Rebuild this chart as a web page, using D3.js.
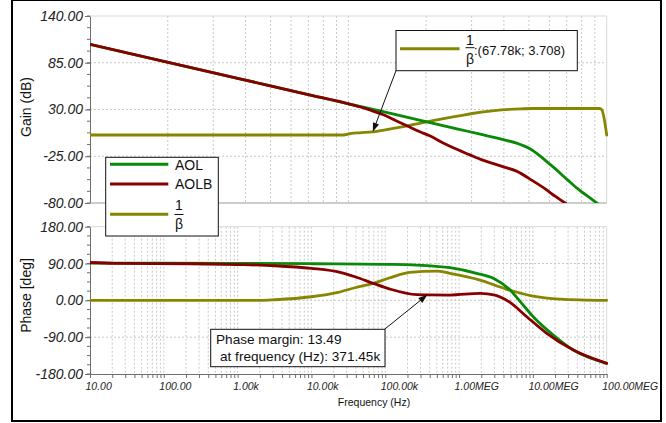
<!DOCTYPE html>
<html><head><meta charset="utf-8">
<script src="https://cdn.jsdelivr.net/npm/d3@7"></script>
<style>
html,body{margin:0;padding:0;background:#fff;}
svg{display:block;}
text{font-family:"Liberation Sans",Arial,sans-serif;}
</style></head><body>
<svg id="chart" width="666" height="423"></svg>
<script>
// ---------- data ----------
const freqTicks = [10, 100, 1e3, 1e4, 1e5, 1e6, 1e7, 1e8];
const freqTickLabels = ["10.00", "100.00", "1.00k", "10.00k", "100.00k", "1.00MEG", "10.00MEG", "100.00MEG"];
const gainTicks = [140, 85, 30, -25, -80];
const gainTickLabels = ["140.00", "85.00", "30.00", "-25.00", "-80.00"];
const phaseTicks = [180, 90, 0, -90, -180];
const phaseTickLabels = ["180.00", "90.00", "0.00", "-90.00", "-180.00"];
const seriesNames = ["AOL", "AOLB", "1/β"];
const seriesColors = ["#088a08", "#870000", "#868600"];

// Gain (dB)
const aolGainFreq = [10, 100, 1e3, 1e4, 1e5, 1e6, 2e6, 4e6, 6e6, 8.87e6, 1.127e7, 1.5e7, 2e7, 3e7, 4e7, 6e7, 7.6e7];
const aolGainDb   = [106.7, 86.7, 66.7, 46.7, 26.9, 6.7, 0.7, -5.5, -9.5, -15.6, -21.5, -30.4, -39.6, -53.4, -62.8, -74.4, -81];
const aolbGainFreq = [10, 100, 1e3, 1e4, 3e4, 4.5e4, 6e4, 1e5, 1.5e5, 2e5, 3e5, 4e5, 6e5, 1e6, 1.5e6, 2e6, 3e6, 4e6, 6e6, 1e7, 1.5e7, 2e7, 3e7];
const aolbGainDb   = [106.7, 86.7, 66.7, 46.7, 37.2, 33.2, 29.8, 23.0, 15.5, 10.5, 3.5, -1.0, -9.0, -18.0, -24.5, -29.0, -34.0, -37.5, -42.5, -54.0, -64.0, -72.0, -82.4];
const invBetaGainFreq = [10, 2.7e4, 3.5e4, 4.5e4, 6.778e4, 1e5, 1.76e5, 3e5, 5e5, 1e6, 1.5e6, 3e6, 7e6, 1e7, 8e7, 8.6e7, 1e8];
const invBetaGainDb   = [0, 0, 1.8, 2.6, 3.708, 6.0, 9.8, 14.0, 17.7, 22.5, 25.3, 28.8, 30.8, 31.2, 31.2, 29.5, 0];

// Phase (deg)
const aolPhaseFreq = [10, 1e3, 1e4, 1e5, 2.67e5, 7.53e5, 1.73e6, 2.91e6, 4.9e6, 7.06e6, 1.01e7, 1.89e7, 3.53e7, 1e8];
const aolPhaseDeg  = [91, 90.5, 89.5, 88, 86.3, 79.7, 66, 53.8, 25.2, -7.3, -40, -84.8, -121.5, -154];
const aolbPhaseFreq = [10, 21.8, 238, 1e3, 3.2e3, 1e4, 2.45e4, 3.89e4, 6.89e4, 1.16e5, 2.67e5, 3.7145e5, 7.53e5, 1.92e6, 3.07e6, 4.9e6, 8.26e6, 1.54e7, 3.53e7, 1e8];
const aolbPhaseDeg  = [92.5, 90.5, 89.5, 87.5, 84.6, 78.2, 68.4, 57.7, 41.5, 27.6, 14, 13.49, 13, 17.1, 13, -4.9, -40, -80.6, -121.5, -154];
const invBetaPhaseFreq = [10, 2e3, 3.2e3, 1e4, 2.3e4, 3.89e4, 6.89e4, 1.16e5, 2.14e5, 4.97e5, 7.53e5, 1.92e6, 4.33e6, 9.6e6, 2.33e7, 1e8];
const invBetaPhaseDeg  = [0, 0, 1.5, 8.8, 19.6, 30.8, 41.5, 55.2, 68.4, 71.6, 66, 49.6, 27.6, 11.2, 3.2, 0];

// Annotations
const markerBeta = {freq: 67.78e3, gain: 3.708, label: ":(67.78k; 3.708)"};
const markerPM = {freq: 371.45e3, phase: 13.49, line1: "Phase margin: 13.49", line2: "at frequency (Hz): 371.45k"};
const gainGridSteps = [2, 3, 4, 5, 6, 7, 8, 9, 10, 20, 30, 40, 50, 60, 70, 80, 90];

// ---------- layout ----------
const svg = d3.select("#chart");
const X0 = 90, X1 = 606.7;
const x = d3.scaleLog().domain([10, 1e8]).range([X0, X1]);
const yG = d3.scaleLinear().domain([-80, 140]).range([203, 16]);
const yP = d3.scaleLinear().domain([-180, 180]).range([374, 226.7]);
const gridTop = d3.scaleLog().domain([1, 100]).range([X0, X1]);
const FONT = '"Liberation Sans", Arial, sans-serif';
const gridColor = "#c9c9c9";
const axisColor = "#6e6e6e";

svg.append("rect").attr("width", 666).attr("height", 423).attr("fill", "#fff");

// ---------- grids ----------
function grid(g, yScale, hVals, vPositions) {
  const [yb, yt] = yScale.range();
  g.selectAll(".vg").data(vPositions).join("line")
    .attr("x1", d => d).attr("x2", d => d).attr("y1", yt).attr("y2", yb)
    .attr("stroke", gridColor).attr("stroke-dasharray", "2,2");
  g.selectAll(".hg").data(hVals).join("line")
    .attr("x1", X0).attr("x2", X1).attr("y1", d => yScale(d)).attr("y2", d => yScale(d))
    .attr("stroke", gridColor).attr("stroke-dasharray", "2,2");
  // top & right border
  g.append("line").attr("x1", X0).attr("x2", X1).attr("y1", yt).attr("y2", yt).attr("stroke", "#d9d9d9");
  g.append("line").attr("x1", X1).attr("x2", X1).attr("y1", yt).attr("y2", yb).attr("stroke", "#d9d9d9");
}
const gTopGrid = svg.append("g");
grid(gTopGrid, yG, [85, 30, -25], gainGridSteps.filter(d => d < 100).map(d => gridTop(d)));
const gBotGrid = svg.append("g");
grid(gBotGrid, yP, [90, 0, -90], x.ticks().filter(d => d > 10 && d < 1e8).map(d => x(d)));

// ---------- axes ----------
function styleAxis(g, size) {
  g.select(".domain").attr("stroke", axisColor);
  g.selectAll(".tick line").attr("stroke", axisColor);
  g.selectAll(".tick text").attr("font-family", FONT).attr("font-style", "italic")
    .attr("font-size", size).attr("fill", "#222");
}
const axG = svg.append("g").attr("transform", `translate(${X0},0)`)
  .call(d3.axisLeft(yG).tickValues(gainTicks).tickSize(5).tickSizeOuter(0).tickPadding(2)
    .tickFormat((d, i) => gainTickLabels[i]));
styleAxis(axG, 14);
const axP = svg.append("g").attr("transform", `translate(${X0},0)`)
  .call(d3.axisLeft(yP).tickValues(phaseTicks).tickSize(5).tickSizeOuter(0).tickPadding(2)
    .tickFormat((d, i) => phaseTickLabels[i]));
styleAxis(axP, 14);

// minor y ticks
function minorY(scale, step) {
  const [lo, hi] = scale.domain();
  const vals = d3.range(lo, hi + 0.001, step);
  svg.append("g").selectAll("line").data(vals).join("line")
    .attr("x1", X0 - 3).attr("x2", X0).attr("y1", d => scale(d)).attr("y2", d => scale(d))
    .attr("stroke", axisColor);
}
minorY(yG, 13.75);
minorY(yP, 22.5);

// bottom axis of gain plot (no ticks)
svg.append("line").attr("x1", X0).attr("x2", X1).attr("y1", yG(-80)).attr("y2", yG(-80)).attr("stroke", "#9a9a9a");

// frequency axis
const axX = svg.append("g").attr("transform", `translate(0,${yP(-180)})`)
  .call(d3.axisBottom(x).tickValues(x.ticks()).tickSize(4).tickSizeOuter(0).tickPadding(5)
    .tickFormat(d => { const i = freqTicks.indexOf(d); return i >= 0 ? freqTickLabels[i] : ""; }));
styleAxis(axX, 10.5);
axX.selectAll(".tick text").attr("text-anchor", "start").attr("x", -5);

// axis titles
svg.append("text").attr("transform", "translate(30.5,107) rotate(-90)").attr("text-anchor", "middle")
  .attr("font-family", FONT).attr("font-size", 14).attr("fill", "#111").text("Gain (dB)");
svg.append("text").attr("transform", "translate(30.5,295.5) rotate(-90)").attr("text-anchor", "middle")
  .attr("font-family", FONT).attr("font-size", 14).attr("fill", "#111").text("Phase [deg]");
svg.append("text").attr("x", 374).attr("y", 406).attr("text-anchor", "middle")
  .attr("font-family", FONT).attr("font-size", 10.5).attr("fill", "#111").text("Frequency (Hz)");

// ---------- series ----------
const defs = svg.append("defs");
defs.append("clipPath").attr("id", "clipG").append("rect")
  .attr("x", X0).attr("y", yG(140) - 2).attr("width", X1 - X0 + 2).attr("height", yG(-80) - yG(140) + 2);
defs.append("clipPath").attr("id", "clipP").append("rect")
  .attr("x", X0).attr("y", yP(180) - 2).attr("width", X1 - X0 + 2).attr("height", yP(-180) - yP(180) + 4);

function drawSeries(clip, yScale, freqs, vals, color) {
  const pts = freqs.map((f, i) => [f, vals[i]]);
  const line = d3.line().x(d => x(d[0])).y(d => yScale(d[1])).curve(d3.curveMonotoneX);
  svg.append("path").attr("clip-path", `url(#${clip})`).attr("d", line(pts))
    .attr("fill", "none").attr("stroke", color).attr("stroke-width", 2.8)
    .attr("stroke-linejoin", "round").attr("stroke-linecap", "round");
}
drawSeries("clipG", yG, invBetaGainFreq, invBetaGainDb, seriesColors[2]);
drawSeries("clipG", yG, aolGainFreq, aolGainDb, seriesColors[0]);
drawSeries("clipG", yG, aolbGainFreq, aolbGainDb, seriesColors[1]);
drawSeries("clipP", yP, invBetaPhaseFreq, invBetaPhaseDeg, seriesColors[2]);
drawSeries("clipP", yP, aolPhaseFreq, aolPhaseDeg, seriesColors[0]);
drawSeries("clipP", yP, aolbPhaseFreq, aolbPhaseDeg, seriesColors[1]);

// ---------- helpers ----------
function arrow(x1, y1, x2, y2) {
  const a = Math.atan2(y2 - y1, x2 - x1), L = 9, w = 3.2;
  svg.append("line").attr("x1", x1).attr("y1", y1).attr("x2", x2 - L * 0.8 * Math.cos(a)).attr("y2", y2 - L * 0.8 * Math.sin(a))
    .attr("stroke", "#111").attr("stroke-width", 1);
  const p = [[x2, y2],
    [x2 - L * Math.cos(a) + w * Math.sin(a), y2 - L * Math.sin(a) - w * Math.cos(a)],
    [x2 - L * Math.cos(a) - w * Math.sin(a), y2 - L * Math.sin(a) + w * Math.cos(a)]];
  svg.append("polygon").attr("points", p.map(q => q.join(",")).join(" ")).attr("fill", "#111");
}
function fraction(cx, y1base, barY, bBase) {
  svg.append("text").attr("x", cx).attr("y", y1base).attr("text-anchor", "middle")
    .attr("font-family", FONT).attr("font-size", 14).attr("fill", "#111").text("1");
  svg.append("line").attr("x1", cx - 4.5).attr("x2", cx + 4.5).attr("y1", barY).attr("y2", barY)
    .attr("stroke", "#111").attr("stroke-width", 1);
  svg.append("text").attr("x", cx).attr("y", bBase).attr("text-anchor", "middle")
    .attr("font-family", FONT).attr("font-size", 14).attr("fill", "#111").text("β");
}

// ---------- annotation: 1/beta marker ----------
arrow(396, 70.7, x(markerBeta.freq), yG(markerBeta.gain));
svg.append("rect").attr("x", 396).attr("y", 30.5).attr("width", 181.3).attr("height", 40.2)
  .attr("fill", "#fff").attr("stroke", "#111").attr("stroke-width", 1);
svg.append("line").attr("x1", 400).attr("x2", 459.5).attr("y1", 48.7).attr("y2", 48.7)
  .attr("stroke", seriesColors[2]).attr("stroke-width", 3);
fraction(470, 45, 47.7, 63.5);
svg.append("text").attr("x", 474).attr("y", 54.5).attr("font-family", FONT).attr("font-size", 13)
  .attr("fill", "#111").text(markerBeta.label);

// ---------- annotation: phase margin ----------
arrow(384.5, 329.3, x(markerPM.freq), yP(markerPM.phase));
svg.append("rect").attr("x", 210.7).attr("y", 329.3).attr("width", 174.3).attr("height", 37.4)
  .attr("fill", "#fff").attr("stroke", "#111").attr("stroke-width", 1);
svg.append("text").attr("x", 216).attr("y", 344).attr("font-family", FONT).attr("font-size", 13.6)
  .attr("fill", "#111").text(markerPM.line1);
svg.append("text").attr("x", 220).attr("y", 361).attr("font-family", FONT).attr("font-size", 13.6)
  .attr("fill", "#111").text(markerPM.line2);

// ---------- legend ----------
svg.append("rect").attr("x", 105.7).attr("y", 157.3).attr("width", 112.6).attr("height", 78.7)
  .attr("fill", "#fff").attr("stroke", "#111").attr("stroke-width", 1);
const legendY = [164.3, 184, 214.3];
seriesNames.forEach((n, i) => {
  svg.append("line").attr("x1", 110).attr("x2", 168.3).attr("y1", legendY[i]).attr("y2", legendY[i])
    .attr("stroke", seriesColors[i]).attr("stroke-width", 3);
  if (i < 2) {
    svg.append("text").attr("x", 175).attr("y", legendY[i] + 5.2).attr("font-family", FONT)
      .attr("font-size", 14).attr("fill", "#111").text(n);
  }
});
fraction(179, 209.7, 214.5, 229);

// ---------- outer frame ----------
svg.append("rect").attr("x", 12).attr("y", 0).attr("width", 649).attr("height", 421)
  .attr("fill", "none").attr("stroke", "#000").attr("stroke-width", 2);
</script>
</body></html>
